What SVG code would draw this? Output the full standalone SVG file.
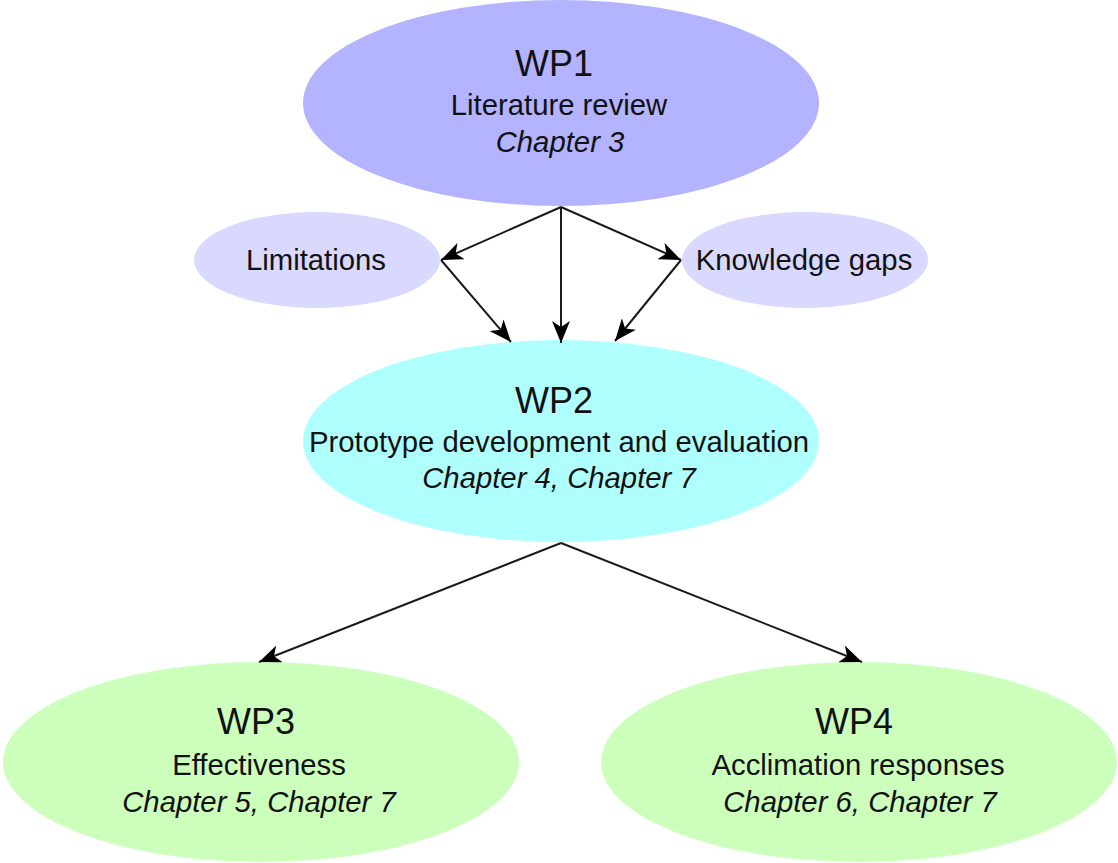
<svg xmlns="http://www.w3.org/2000/svg" width="1118" height="863" viewBox="0 0 1118 863">
<defs>
<style>
.t{font-family:"Liberation Sans",Arial,sans-serif;fill:#111;text-anchor:middle}
.h{font-size:36px}
.b{font-size:29.3px}
.i{font-size:29.3px;font-style:italic}
.e{stroke:none}
.c{stroke:#1a1a1a;stroke-width:2;fill:none}
</style>
<marker id="ah" markerUnits="userSpaceOnUse" markerWidth="22" markerHeight="18" viewBox="0 0 22 18" refX="22" refY="9" orient="auto">
<path d="M22,9 L0,0 L6,9 L0,18 z" fill="#000"/>
</marker>
</defs>
<rect width="1118" height="863" fill="#fff"/>
<g id="wp1">
<ellipse class="e" cx="561" cy="103" rx="258" ry="103" fill="#b3b3ff"/>
<text class="t h" x="554" y="76">WP1</text>
<text class="t b" x="559" y="115">Literature review</text>
<text class="t i" x="560" y="152">Chapter 3</text>
</g>
<g id="limitations">
<ellipse class="e" cx="317" cy="260" rx="123" ry="48" fill="#d9d9ff"/>
<text class="t b" x="316" y="270">Limitations</text>
</g>
<g id="knowledge-gaps">
<ellipse class="e" cx="805" cy="260" rx="123" ry="48" fill="#d9d9ff"/>
<text class="t b" x="804" y="270">Knowledge gaps</text>
</g>
<g id="wp2">
<ellipse class="e" cx="561" cy="441" rx="258" ry="101" fill="#b0ffff"/>
<text class="t h" x="554" y="413">WP2</text>
<text class="t b" x="559" y="452">Prototype development and evaluation</text>
<text class="t i" x="559" y="488">Chapter 4, Chapter 7</text>
</g>
<g id="wp3">
<ellipse class="e" cx="261" cy="762" rx="258" ry="100" fill="#ccffbb"/>
<text class="t h" x="256" y="734">WP3</text>
<text class="t b" x="259" y="775">Effectiveness</text>
<text class="t i" x="259" y="812">Chapter 5, Chapter 7</text>
</g>
<g id="wp4">
<ellipse class="e" cx="859" cy="762" rx="258" ry="100" fill="#ccffbb"/>
<text class="t h" x="854" y="734">WP4</text>
<text class="t b" x="858" y="775">Acclimation responses</text>
<text class="t i" x="860" y="812">Chapter 6, Chapter 7</text>
</g>
<g id="connectors">
<line class="c" x1="561" y1="207" x2="441" y2="260" marker-end="url(#ah)"/>
<line class="c" x1="561" y1="207" x2="561" y2="343" marker-end="url(#ah)"/>
<line class="c" x1="561" y1="207" x2="681" y2="260" marker-end="url(#ah)"/>
<line class="c" x1="441" y1="260" x2="511" y2="342" marker-end="url(#ah)"/>
<line class="c" x1="681" y1="260" x2="615" y2="341" marker-end="url(#ah)"/>
<line class="c" x1="561" y1="543" x2="259" y2="662" marker-end="url(#ah)"/>
<line class="c" x1="561" y1="543" x2="862" y2="662" marker-end="url(#ah)"/>
</g>
</svg>
